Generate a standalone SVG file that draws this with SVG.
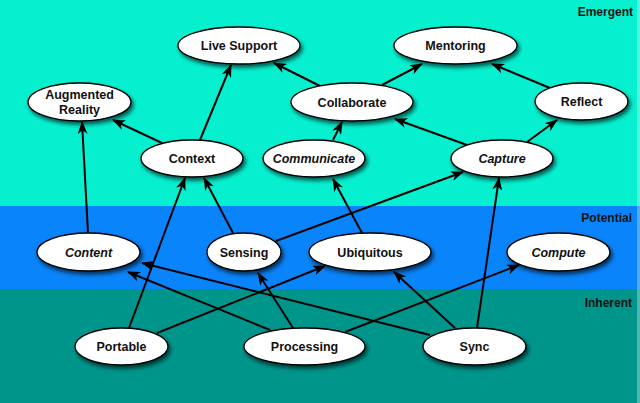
<svg xmlns="http://www.w3.org/2000/svg" width="640" height="403" viewBox="0 0 640 403">
<defs>
<style>
.node ellipse{fill:#fff;stroke:#000;stroke-width:1.3;filter:url(#sh)}
.node text{font-family:"Liberation Sans",Arial,sans-serif;font-weight:bold;font-size:12.5px;fill:#111;text-anchor:middle}
.node text.it{font-style:italic}
.band{font-family:"Liberation Sans",Arial,sans-serif;font-weight:bold;font-size:12px;fill:#111;text-anchor:end}
#edges line{stroke:#000;stroke-width:2;marker-end:url(#ah)}
</style>
<filter id="sh" x="-20%" y="-30%" width="150%" height="180%">
<feDropShadow dx="2" dy="3" stdDeviation="2" flood-color="#000" flood-opacity="0.65"/>
</filter>
<marker id="ah" viewBox="0 0 13 10" refX="12" refY="5" markerWidth="13" markerHeight="10" markerUnits="userSpaceOnUse" orient="auto">
<path d="M0,0 L13,5 L0,10 L3.5,5 z" fill="#000"/>
</marker>
</defs>
<rect x="0" y="0" width="640" height="206" fill="#06f0d0"/>
<rect x="0" y="206" width="640" height="83" fill="#0a84fa"/>
<rect x="0" y="289" width="640" height="114" fill="#00958b"/>
<rect x="637" y="0" width="3" height="403" fill="#fff" opacity="0.3"/>
<text class="band" x="633" y="16">Emergent</text>
<text class="band" x="632" y="222">Potential</text>
<text class="band" x="632" y="307">Inherent</text>
<g id="edges">
<line x1="162" y1="143" x2="113" y2="120"/>
<line x1="200" y1="140" x2="231" y2="65"/>
<line x1="320" y1="86" x2="274" y2="63"/>
<line x1="88" y1="233" x2="82" y2="122"/>
<line x1="382" y1="85" x2="422" y2="64"/>
<line x1="550" y1="88" x2="492" y2="64"/>
<line x1="333" y1="140" x2="342" y2="122"/>
<line x1="467" y1="145" x2="395" y2="119"/>
<line x1="527" y1="142" x2="557" y2="120"/>
<line x1="233" y1="233" x2="204" y2="178"/>
<line x1="129" y1="328" x2="185" y2="178"/>
<line x1="276" y1="241" x2="463" y2="172"/>
<line x1="362" y1="233" x2="333" y2="179"/>
<line x1="477" y1="328" x2="499" y2="178"/>
<line x1="430" y1="335" x2="142" y2="263"/>
<line x1="270" y1="330" x2="128" y2="272"/>
<line x1="293" y1="328" x2="258" y2="273"/>
<line x1="157" y1="333" x2="325" y2="266"/>
<line x1="345" y1="332" x2="519" y2="265"/>
<line x1="455" y1="328" x2="394" y2="272"/>
</g>
<g id="live-support" class="node"><ellipse cx="239" cy="45.5" rx="61" ry="18.5"/><text x="239" y="50">Live Support</text></g>
<g id="mentoring" class="node"><ellipse cx="455.5" cy="45.5" rx="61.5" ry="18.5"/><text x="455.5" y="50">Mentoring</text></g>
<g id="augmented-reality" class="node"><ellipse cx="79.5" cy="102" rx="51.5" ry="19"/><text x="79.5" y="99">Augmented</text><text x="79.5" y="113.5">Reality</text></g>
<g id="collaborate" class="node"><ellipse cx="352" cy="102" rx="61" ry="19"/><text x="352" y="106.5">Collaborate</text></g>
<g id="reflect" class="node"><ellipse cx="581.5" cy="101.5" rx="46.5" ry="18.5"/><text x="581.5" y="106">Reflect</text></g>
<g id="context" class="node"><ellipse cx="192" cy="158.5" rx="51" ry="18.5"/><text x="192" y="163">Context</text></g>
<g id="communicate" class="node"><ellipse cx="314" cy="158.5" rx="51" ry="18.5"/><text class="it" x="314" y="163">Communicate</text></g>
<g id="capture" class="node"><ellipse cx="502" cy="158.5" rx="51" ry="18.5"/><text class="it" x="502" y="163">Capture</text></g>
<g id="content" class="node"><ellipse cx="88.5" cy="252" rx="51.5" ry="19"/><text class="it" x="88.5" y="256.5">Content</text></g>
<g id="sensing" class="node"><ellipse cx="244" cy="252" rx="37" ry="19"/><text x="244" y="256.5">Sensing</text></g>
<g id="ubiquitous" class="node"><ellipse cx="370" cy="252" rx="61" ry="19"/><text x="370" y="256.5">Ubiquitous</text></g>
<g id="compute" class="node"><ellipse cx="558.5" cy="252" rx="51.5" ry="19"/><text class="it" x="558.5" y="256.5">Compute</text></g>
<g id="portable" class="node"><ellipse cx="121.5" cy="346.5" rx="46.5" ry="18.5"/><text x="121.5" y="351">Portable</text></g>
<g id="processing" class="node"><ellipse cx="304.5" cy="346.5" rx="60.5" ry="18.5"/><text x="304.5" y="351">Processing</text></g>
<g id="sync" class="node"><ellipse cx="474.5" cy="346.5" rx="51.5" ry="18.5"/><text x="474.5" y="351">Sync</text></g>
</svg>
